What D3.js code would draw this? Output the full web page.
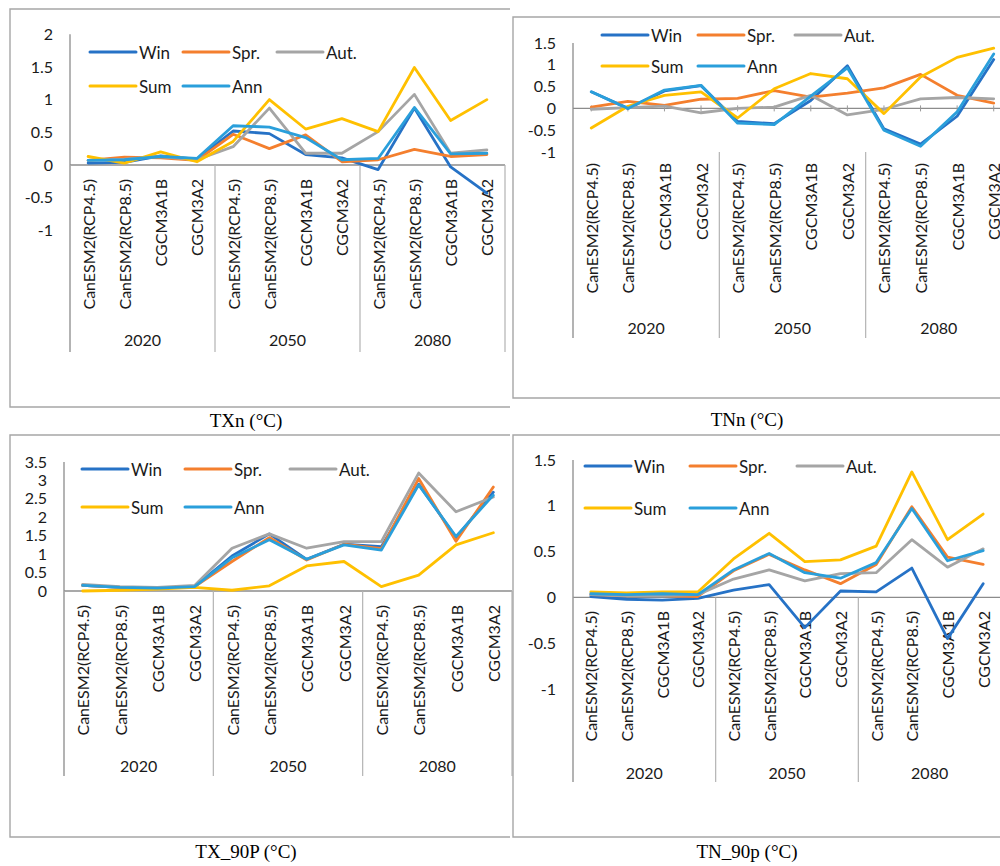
<!DOCTYPE html>
<html>
<head>
<meta charset="utf-8">
<script src="https://cdn.jsdelivr.net/npm/d3@7"></script>
<style>
  body { margin: 0; background: #fff; }
  svg { display: block; }
</style>
</head>
<body>
<svg id="chart" width="1000" height="866"></svg>
<script>
// ---- categories ----
const models = ["CanESM2(RCP4.5)", "CanESM2(RCP8.5)", "CGCM3A1B", "CGCM3A2"];
const years = ["2020", "2050", "2080"];
const seasons = ["Win", "Spr.", "Aut.", "Sum", "Ann"];

// ---- TXn (°C) ----
const txnWin = [0.03, 0.04, 0.14, 0.09, 0.52, 0.48, 0.16, 0.11, -0.07, 0.87, -0.03, -0.43];
const txnSpr = [0.07, 0.12, 0.11, 0.07, 0.47, 0.25, 0.46, 0.05, 0.08, 0.24, 0.13, 0.16];
const txnAut = [0.07, 0.09, 0.13, 0.08, 0.28, 0.87, 0.18, 0.18, 0.51, 1.08, 0.18, 0.23];
const txnSum = [0.13, 0.03, 0.20, 0.05, 0.36, 1.00, 0.55, 0.71, 0.51, 1.49, 0.68, 1.00];
const txnAnn = [0.07, 0.08, 0.13, 0.10, 0.60, 0.58, 0.42, 0.08, 0.10, 0.88, 0.17, 0.18];
const txnTicks = [-1, -0.5, 0, 0.5, 1, 1.5, 2];

// ---- TNn (°C) ----
const tnnWin = [0.38, 0.00, 0.40, 0.52, -0.30, -0.35, 0.18, 0.98, -0.47, -0.82, -0.18, 1.12];
const tnnSpr = [0.03, 0.16, 0.07, 0.21, 0.23, 0.41, 0.26, 0.35, 0.47, 0.78, 0.30, 0.12];
const tnnAut = [-0.02, 0.02, 0.05, -0.10, 0.00, 0.03, 0.30, -0.15, -0.02, 0.22, 0.25, 0.22];
const tnnSum = [-0.45, 0.05, 0.30, 0.38, -0.22, 0.45, 0.80, 0.68, -0.12, 0.72, 1.17, 1.38];
const tnnAnn = [0.38, 0.00, 0.42, 0.53, -0.34, -0.37, 0.28, 0.93, -0.50, -0.87, -0.08, 1.25];
const tnnTicks = [-1, -0.5, 0, 0.5, 1, 1.5];

// ---- TX_90P (°C) ----
const tx90Win = [0.15, 0.10, 0.08, 0.12, 0.95, 1.55, 0.86, 1.27, 1.20, 2.90, 1.45, 2.68];
const tx90Spr = [0.15, 0.10, 0.08, 0.12, 0.80, 1.45, 0.84, 1.27, 1.15, 3.05, 1.35, 2.82];
const tx90Aut = [0.18, 0.12, 0.10, 0.15, 1.16, 1.55, 1.16, 1.34, 1.34, 3.20, 2.15, 2.55];
const tx90Sum = [0.00, 0.02, 0.05, 0.10, 0.02, 0.14, 0.68, 0.80, 0.12, 0.43, 1.25, 1.58];
const tx90Ann = [0.15, 0.10, 0.08, 0.12, 0.90, 1.39, 0.86, 1.25, 1.11, 2.88, 1.48, 2.60];
const tx90Ticks = [0, 0.5, 1, 1.5, 2, 2.5, 3, 3.5];

// ---- TN_90p (°C) ----
const tn90Win = [0.01, -0.02, -0.03, -0.01, 0.08, 0.14, -0.33, 0.07, 0.06, 0.32, -0.45, 0.15];
const tn90Spr = [0.03, 0.02, 0.02, 0.01, 0.29, 0.47, 0.30, 0.15, 0.36, 0.99, 0.44, 0.36];
const tn90Aut = [0.03, 0.02, 0.02, 0.03, 0.20, 0.30, 0.18, 0.26, 0.27, 0.63, 0.33, 0.53];
const tn90Sum = [0.06, 0.05, 0.06, 0.06, 0.42, 0.70, 0.39, 0.41, 0.56, 1.37, 0.63, 0.91];
const tn90Ann = [0.04, 0.03, 0.04, 0.03, 0.30, 0.48, 0.27, 0.21, 0.38, 0.97, 0.40, 0.51];
const tn90Ticks = [-1, -0.5, 0, 0.5, 1, 1.5];

// ---- styling ----
const seasonColors = ["#2672c6", "#f47f2e", "#a5a5a5", "#ffc000", "#2a9fdb"];
const SANS = "Lato, 'Open Sans', sans-serif";
const SERIF = "'Liberation Serif', 'Times New Roman', serif";

const svg = d3.select("#chart");
svg.append("rect").attr("width", 1000).attr("height", 866).attr("fill", "#fff");

// Layout of each chart box (positions only; values come from the arrays above)
const panels = [
  { caption: "TXn (°C)", series: [txnWin, txnSpr, txnAut, txnSum, txnAnn], ticks: txnTicks,
    frame: "M510,9H10V407H510", fill: null,
    left: 70, right: 505, top: 34.2, bottom: 230.4, domain: [-1, 2],
    axisTop: 34.2, axisBottom: 352, sepTop: "zero", sepBottom: 352,
    labelTop: 179, groupY: 339, legendY: [52, 86], legendX: [90, 183, 277],
    capX: 246, capY: 427, zeroTicks: false },
  { caption: "TNn (°C)", series: [tnnWin, tnnSpr, tnnAut, tnnSum, tnnAnn], ticks: tnnTicks,
    frame: "M1010,17H513V398H1010", fill: [513, 17, 500, 381],
    left: 573, right: 1012, top: 43, bottom: 152, domain: [-1, 1.5],
    axisTop: 43, axisBottom: 338, sepTop: 152, sepBottom: 338,
    labelTop: 163, groupY: 327, legendY: [35, 66], legendX: [602, 698, 795],
    capX: 747, capY: 426, zeroTicks: true },
  { caption: "TX_90P (°C)", series: [tx90Win, tx90Spr, tx90Aut, tx90Sum, tx90Ann], ticks: tx90Ticks,
    frame: "M510,435H10V837H510", fill: null,
    left: 64, right: 512, top: 462, bottom: 591, domain: [0, 3.5],
    axisTop: 462, axisBottom: 776, sepTop: "zero", sepBottom: 776,
    labelTop: 605, groupY: 765, legendY: [469, 507], legendX: [82, 185, 290],
    capX: 246, capY: 858, zeroTicks: false },
  { caption: "TN_90p (°C)", series: [tn90Win, tn90Spr, tn90Aut, tn90Sum, tn90Ann], ticks: tn90Ticks,
    frame: "M1010,435H513V837H1010", fill: [513, 435, 500, 402],
    left: 573, right: 1001, top: 460, bottom: 689, domain: [-1, 1.5],
    axisTop: 460, axisBottom: 782, sepTop: "zero", sepBottom: 782,
    labelTop: 611, groupY: 772, legendY: [466, 508], legendX: [585, 690, 797],
    capX: 747, capY: 858, zeroTicks: false }
];

function drawPanel(p) {
  const g = svg.append("g");

  if (p.fill) {
    g.append("rect")
      .attr("x", p.fill[0]).attr("y", p.fill[1])
      .attr("width", p.fill[2]).attr("height", p.fill[3])
      .attr("fill", "#fff");
  }
  g.append("path").attr("d", p.frame)
    .attr("fill", "none").attr("stroke", "#a6a6a6").attr("stroke-width", 1.4);

  const x = d3.scaleBand().domain(d3.range(12)).range([p.left, p.right]);
  const cx = i => x(i) + x.bandwidth() / 2;
  const y = d3.scaleLinear().domain(p.domain).range([p.bottom, p.top]);
  const y0 = y(0);

  // value axis labels
  const ax = g.append("g")
    .attr("transform", `translate(${p.left},0)`)
    .call(d3.axisLeft(y).tickValues(p.ticks).tickSize(0).tickPadding(17)
      .tickFormat(d => String(d)));
  ax.select(".domain").remove();
  ax.selectAll("text")
    .attr("font-family", SANS).attr("font-size", 16).attr("fill", "#1a1a1a");

  // value axis line
  g.append("line")
    .attr("x1", p.left).attr("x2", p.left)
    .attr("y1", p.axisTop).attr("y2", p.axisBottom)
    .attr("stroke", "#8c8c8c").attr("stroke-width", 1.3);

  // category axis line at zero
  g.append("line")
    .attr("x1", p.left).attr("x2", p.right)
    .attr("y1", y0).attr("y2", y0)
    .attr("stroke", "#8c8c8c").attr("stroke-width", 1.3);

  if (p.zeroTicks) {
    g.selectAll(".ztick").data(d3.range(12)).join("line")
      .attr("x1", i => cx(i)).attr("x2", i => cx(i))
      .attr("y1", y0 - 3).attr("y2", y0 + 3)
      .attr("stroke", "#9a9a9a").attr("stroke-width", 1);
  }

  // group separators
  const sepTop = p.sepTop === "zero" ? y0 : p.sepTop;
  const sepXs = years.map((_, k) => x(k * models.length)).concat([p.right]);
  g.selectAll(".sep").data(sepXs).join("line")
    .attr("x1", d => d).attr("x2", d => d)
    .attr("y1", sepTop).attr("y2", p.sepBottom)
    .attr("stroke", "#b3b3b3").attr("stroke-width", 1.2);

  // category labels (rotated)
  const cats = d3.range(12).map(i => models[i % models.length]);
  g.selectAll(".cat").data(cats).join("text")
    .attr("transform", (d, i) => `translate(${cx(i)},${p.labelTop}) rotate(-90)`)
    .attr("text-anchor", "end")
    .attr("dominant-baseline", "central")
    .attr("font-family", SANS).attr("font-size", 16).attr("fill", "#1a1a1a")
    .text(d => d);

  // period labels
  g.selectAll(".yr").data(years).join("text")
    .attr("x", (d, k) => (sepXs[k] + sepXs[k + 1]) / 2)
    .attr("y", p.groupY)
    .attr("text-anchor", "middle")
    .attr("dominant-baseline", "central")
    .attr("font-family", SANS).attr("font-size", 16).attr("fill", "#1a1a1a")
    .text(d => d);

  // series lines
  const line = d3.line().x((d, i) => cx(i)).y(d => y(d));
  p.series.forEach((vals, s) => {
    g.append("path")
      .attr("d", line(vals))
      .attr("fill", "none")
      .attr("stroke", seasonColors[s])
      .attr("stroke-width", 2.8)
      .attr("stroke-linejoin", "round")
      .attr("stroke-linecap", "round");
  });

  // legend: three entries on first row, two on second
  seasons.forEach((name, s) => {
    const row = s < 3 ? 0 : 1;
    const col = s < 3 ? s : s - 3;
    const lx = p.legendX[col];
    const ly = p.legendY[row];
    g.append("line")
      .attr("x1", lx).attr("x2", lx + 46)
      .attr("y1", ly).attr("y2", ly)
      .attr("stroke", seasonColors[s]).attr("stroke-width", 3)
      .attr("stroke-linecap", "round");
    g.append("text")
      .attr("x", lx + 49).attr("y", ly)
      .attr("dominant-baseline", "central")
      .attr("font-family", SANS).attr("font-size", 17).attr("fill", "#1a1a1a")
      .text(name);
  });

  // caption under the box
  g.append("text")
    .attr("x", p.capX).attr("y", p.capY)
    .attr("text-anchor", "middle")
    .attr("font-family", SERIF).attr("font-size", 19).attr("fill", "#000")
    .text(p.caption);
}

panels.forEach(drawPanel);
</script>
</body>
</html>
